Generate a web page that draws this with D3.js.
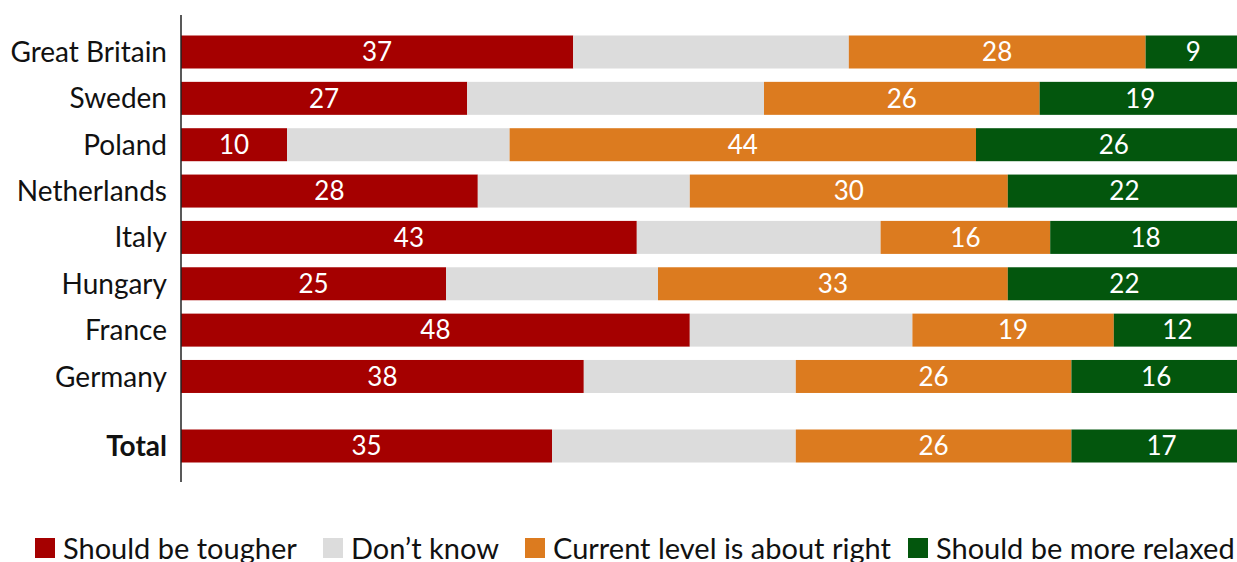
<!DOCTYPE html>
<html>
<head>
<meta charset="utf-8">
<script src="https://cdn.jsdelivr.net/npm/d3@7"></script>
<style>
  body { margin: 0; background: #fff; overflow: hidden; }
  svg text { font-family: Lato, "Open Sans", sans-serif; }
</style>
</head>
<body>
<div id="chart"></div>
<script>
// rows, top to bottom; the last one is the total
const categories = ["Great Britain", "Sweden", "Poland", "Netherlands", "Italy", "Hungary", "France", "Germany", "Total"];
const seriesNames = ["Should be tougher", "Don\u2019t know", "Current level is about right", "Should be more relaxed"];
const tougher = [37, 27, 10, 28, 43, 25, 48, 38, 35];
const dontKnow = [26, 28, 21, 20, 23, 20, 21, 20, 23];
const aboutRight = [28, 26, 44, 30, 16, 33, 19, 26, 26];
const relaxed = [9, 19, 26, 22, 18, 22, 12, 16, 17];
const colors = ["#a50000", "#dcdcdc", "#dc7b1f", "#03560d"];

const W = 1237, H = 562;
const svg = d3.select("#chart").append("svg")
    .attr("width", W)
    .attr("height", H);

const rows = categories.map((c, i) => ({
    name: c,
    tougher: tougher[i],
    dontKnow: dontKnow[i],
    aboutRight: aboutRight[i],
    relaxed: relaxed[i]
}));
const keys = ["tougher", "dontKnow", "aboutRight", "relaxed"];
const stacked = d3.stack().keys(keys)(rows);

const x = d3.scaleLinear().domain([0, 100]).range([181, 1241]);
// total row sits half a step further down than the rest
const rowPos = i => (i === categories.length - 1 ? i + 0.5 : i);
const y = d3.scaleLinear().domain([0, categories.length - 0.5]).range([52, 446]);
const barH = 33;

const layers = svg.selectAll("g.layer")
    .data(stacked)
    .enter()
    .append("g")
    .attr("class", "layer")
    .attr("fill", (d, i) => colors[i]);

layers.selectAll("rect")
    .data(d => d)
    .enter()
    .append("rect")
    .attr("x", d => x(d[0]))
    .attr("y", (d, i) => y(rowPos(i)) - barH / 2)
    .attr("width", d => x(d[1]) - x(d[0]))
    .attr("height", barH);

// value labels, none on the "don't know" part
layers.filter(d => d.key !== "dontKnow")
    .selectAll("text")
    .data(d => d)
    .enter()
    .append("text")
    .attr("x", d => (x(d[0]) + x(d[1])) / 2)
    .attr("y", (d, i) => y(rowPos(i)))
    .attr("dy", "0.36em")
    .attr("text-anchor", "middle")
    .attr("fill", "#fff")
    .attr("font-size", 26)
    .text(d => d[1] - d[0]);

// vertical axis line + country names
svg.append("line")
    .attr("x1", 181).attr("x2", 181)
    .attr("y1", 15).attr("y2", 482)
    .attr("stroke", "#222")
    .attr("stroke-width", 1.5);

svg.selectAll("text.cat")
    .data(categories)
    .enter()
    .append("text")
    .attr("class", "cat")
    .attr("x", 167)
    .attr("y", (d, i) => y(rowPos(i)))
    .attr("dy", "0.36em")
    .attr("text-anchor", "end")
    .attr("font-size", 28)
    .attr("font-weight", (d, i) => i === categories.length - 1 ? "bold" : "normal")
    .attr("fill", "#111")
    .text(d => d);

// legend along the bottom
const legendX = [35, 323, 525, 908];
const legend = svg.selectAll("g.legend")
    .data(seriesNames)
    .enter()
    .append("g")
    .attr("class", "legend")
    .attr("transform", (d, i) => `translate(${legendX[i]},538)`);

legend.append("rect")
    .attr("width", 20)
    .attr("height", 20)
    .attr("fill", (d, i) => colors[i]);

legend.append("text")
    .attr("x", 28)
    .attr("y", 21)
    .attr("font-size", 29)
    .attr("fill", "#111")
    .text(d => d);
</script>
</body>
</html>
